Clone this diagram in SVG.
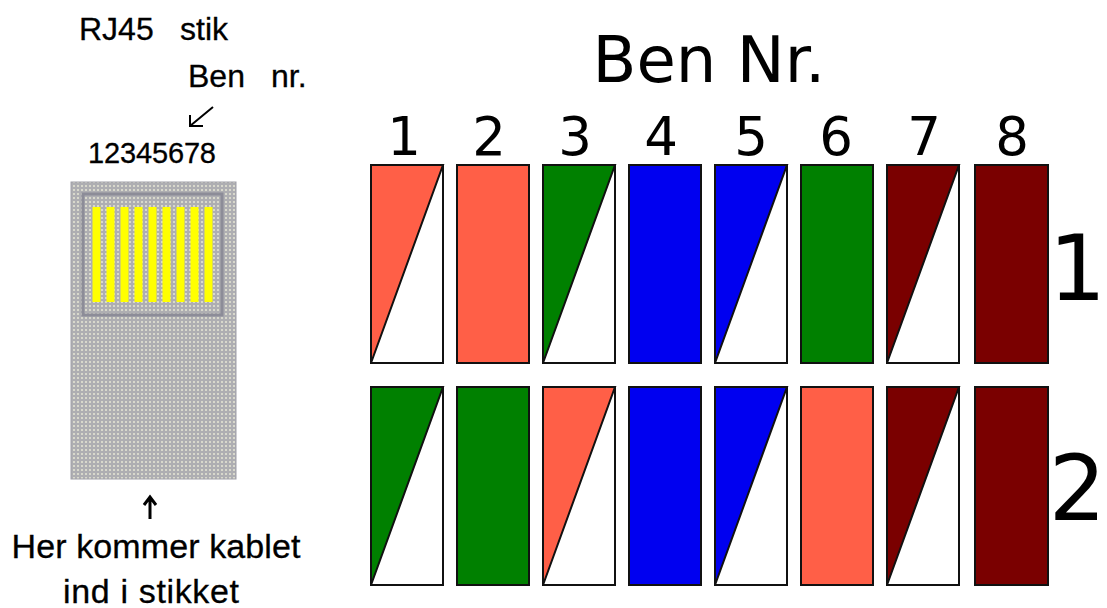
<svg xmlns="http://www.w3.org/2000/svg" width="1107" height="608" viewBox="0 0 1107 608">
<style>
text{font-family:"Liberation Sans",Arial,sans-serif;fill:#000}
.big{font-family:"DejaVu Sans",sans-serif}
.s{font-size:32px;stroke:#000;stroke-width:.3}
.n{font-family:"DejaVu Sans",sans-serif;font-size:53px;text-anchor:middle}
.h{font-size:34px;text-anchor:middle;stroke:#000;stroke-width:.3}
.b{stroke:#111;stroke-width:2}
.w{fill:#fff}.o{fill:#ff5f47}.g{fill:#008000}.l{fill:#0000f0}.m{fill:#7a0000}
.a{fill:none;stroke:#000}
</style>
<defs>
<pattern id="dots" width="4" height="4" patternUnits="userSpaceOnUse">
<rect width="4" height="4" fill="#aeaeb2"/><rect x="1" y="1" width="2" height="2" fill="#d8d8cc"/>
</pattern>
</defs>
<rect width="1107" height="608" fill="#fff"/>

<g id="plug">
<rect x="71" y="182" width="165" height="297" fill="url(#dots)" stroke="#a0a0a8"/>
<rect x="83" y="194" width="139" height="121" fill="url(#dots)" stroke="#8c8c98" stroke-width="3"/>
<g fill="#ffff00">
<rect x="92.500" y="207" width="8" height="95"/><rect x="106.500" y="207" width="8" height="95"/><rect x="120.500" y="207" width="8" height="95"/><rect x="134.500" y="207" width="8" height="95"/><rect x="148.500" y="207" width="8" height="95"/><rect x="162.500" y="207" width="8" height="95"/><rect x="176.500" y="207" width="8" height="95"/><rect x="190.500" y="207" width="8" height="95"/><rect x="204.500" y="207" width="8" height="95"/>
</g>
</g>

<g id="labels">
<text x="79" y="40" class="s">RJ45</text><text x="180" y="40" class="s">stik</text>
<text x="188" y="87" class="s">Ben</text><text x="271" y="87" class="s">nr.</text>
<text x="88" y="163" font-size="29" stroke="#000" stroke-width=".3" textLength="128">12345678</text>
<text x="156" y="558" class="h" textLength="289">Her kommer kablet</text>
<text x="151" y="603" class="h" textLength="176">ind i stikket</text>
<text x="709" y="82" class="big" font-size="64" text-anchor="middle">Ben Nr.</text>
<text x="1106" y="300" class="big" font-size="90" text-anchor="end">1</text>
<text x="1106" y="520" class="big" font-size="90" text-anchor="end">2</text>
</g>
<g id="pin-numbers">
<text x="404" y="155" class="n">1</text><text x="489" y="155" class="n">2</text><text x="575" y="155" class="n">3</text><text x="661" y="155" class="n">4</text><text x="751" y="155" class="n">5</text><text x="836" y="155" class="n">6</text><text x="924" y="155" class="n">7</text><text x="1012" y="155" class="n">8</text>
</g>

<g id="connectors">
<path class="a" stroke-width="2" d="M213 107L190 126M190 115V126H203"/>
<path class="a" stroke-width="3" d="M150 519V497M144 505L150 497L156 505"/>
</g>

<g id="row-1">
<g id="r1p1"><rect x="371" y="165" width="72" height="198" class="w b"/><path d="M371 165H443L371 363Z" class="o b"/></g>
<g id="r1p2"><rect x="457" y="165" width="72" height="198" class="o b"/></g>
<g id="r1p3"><rect x="543" y="165" width="72" height="198" class="w b"/><path d="M543 165H615L543 363Z" class="g b"/></g>
<g id="r1p4"><rect x="629" y="165" width="72" height="198" class="l b"/></g>
<g id="r1p5"><rect x="715" y="165" width="72" height="198" class="w b"/><path d="M715 165H787L715 363Z" class="l b"/></g>
<g id="r1p6"><rect x="801" y="165" width="72" height="198" class="g b"/></g>
<g id="r1p7"><rect x="887" y="165" width="72" height="198" class="w b"/><path d="M887 165H959L887 363Z" class="m b"/></g>
<g id="r1p8"><rect x="975" y="165" width="73" height="198" class="m b"/></g>
</g>
<g id="row-2">
<g id="r2p1"><rect x="371" y="387" width="72" height="198" class="w b"/><path d="M371 387H443L371 585Z" class="g b"/></g>
<g id="r2p2"><rect x="457" y="387" width="72" height="198" class="g b"/></g>
<g id="r2p3"><rect x="543" y="387" width="72" height="198" class="w b"/><path d="M543 387H615L543 585Z" class="o b"/></g>
<g id="r2p4"><rect x="629" y="387" width="72" height="198" class="l b"/></g>
<g id="r2p5"><rect x="715" y="387" width="72" height="198" class="w b"/><path d="M715 387H787L715 585Z" class="l b"/></g>
<g id="r2p6"><rect x="801" y="387" width="72" height="198" class="o b"/></g>
<g id="r2p7"><rect x="887" y="387" width="72" height="198" class="w b"/><path d="M887 387H959L887 585Z" class="m b"/></g>
<g id="r2p8"><rect x="975" y="387" width="73" height="198" class="m b"/></g>
</g>
</svg>
